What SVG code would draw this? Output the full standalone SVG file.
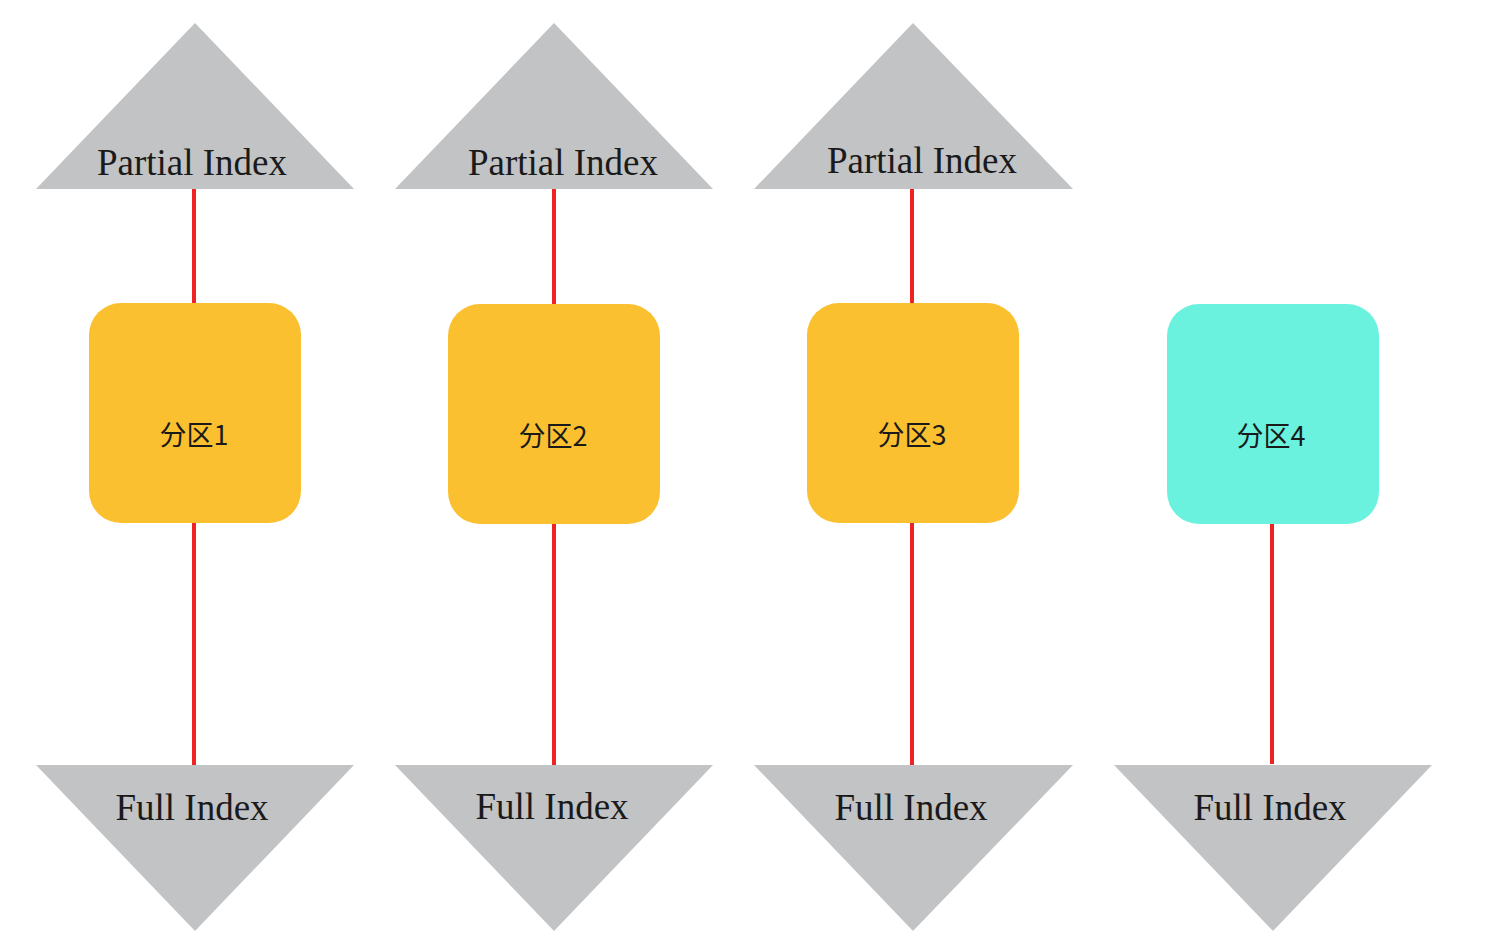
<svg xmlns="http://www.w3.org/2000/svg" width="1511" height="944" viewBox="0 0 1511 944">
<style>
.tri{fill:#C2C3C5}
.lbl{font-family:"Liberation Serif","Times New Roman",serif;font-size:37px;fill:#1a1a1a;text-anchor:middle}
.box{fill:#FAC02F}
.box4{fill:#6BF2DE}
.btxt{font-family:"Noto Sans CJK SC","Noto Sans",sans-serif;font-size:27px;fill:#1a1a1a;text-anchor:middle;dominant-baseline:central}
.edge{stroke:#EE2424;stroke-width:4;fill:none}
</style>
<rect width="1511" height="944" fill="#ffffff"/>
<g id="connectors">
<line class="edge" x1="194" y1="189" x2="194" y2="304"/>
<line class="edge" x1="194" y1="522" x2="194" y2="766"/>
<line class="edge" x1="554" y1="189" x2="554" y2="305"/>
<line class="edge" x1="554" y1="523" x2="554" y2="766"/>
<line class="edge" x1="912" y1="189" x2="912" y2="304"/>
<line class="edge" x1="912" y1="522" x2="912" y2="766"/>
<line class="edge" x1="1272" y1="523" x2="1272" y2="764"/>
</g>
<g id="partial1"><polygon class="tri" points="195,23 354,189 36,189"/><text class="lbl" x="192" y="175">Partial Index</text></g>
<g id="partial2"><polygon class="tri" points="554,23 713,189 395,189"/><text class="lbl" x="563" y="175">Partial Index</text></g>
<g id="partial3"><polygon class="tri" points="913,23 1073,189 754,189"/><text class="lbl" x="922" y="173">Partial Index</text></g>
<g id="part1"><rect class="box" x="89" y="303" width="212" height="220" rx="32"/><text class="btxt" x="194" y="433">分区1</text></g>
<g id="part2"><rect class="box" x="448" y="304" width="212" height="220" rx="32"/><text class="btxt" x="553" y="434">分区2</text></g>
<g id="part3"><rect class="box" x="807" y="303" width="212" height="220" rx="32"/><text class="btxt" x="912" y="433">分区3</text></g>
<g id="part4"><rect class="box4" x="1167" y="304" width="212" height="220" rx="32"/><text class="btxt" x="1271" y="434">分区4</text></g>
<g id="full1"><polygon class="tri" points="36,765 354,765 195,931"/><text class="lbl" x="192" y="820">Full Index</text></g>
<g id="full2"><polygon class="tri" points="395,765 713,765 554,931"/><text class="lbl" x="552" y="819">Full Index</text></g>
<g id="full3"><polygon class="tri" points="754,765 1073,765 913,931"/><text class="lbl" x="911" y="820">Full Index</text></g>
<g id="full4"><polygon class="tri" points="1114,765 1432,765 1273,931"/><text class="lbl" x="1270" y="820">Full Index</text></g>
</svg>
